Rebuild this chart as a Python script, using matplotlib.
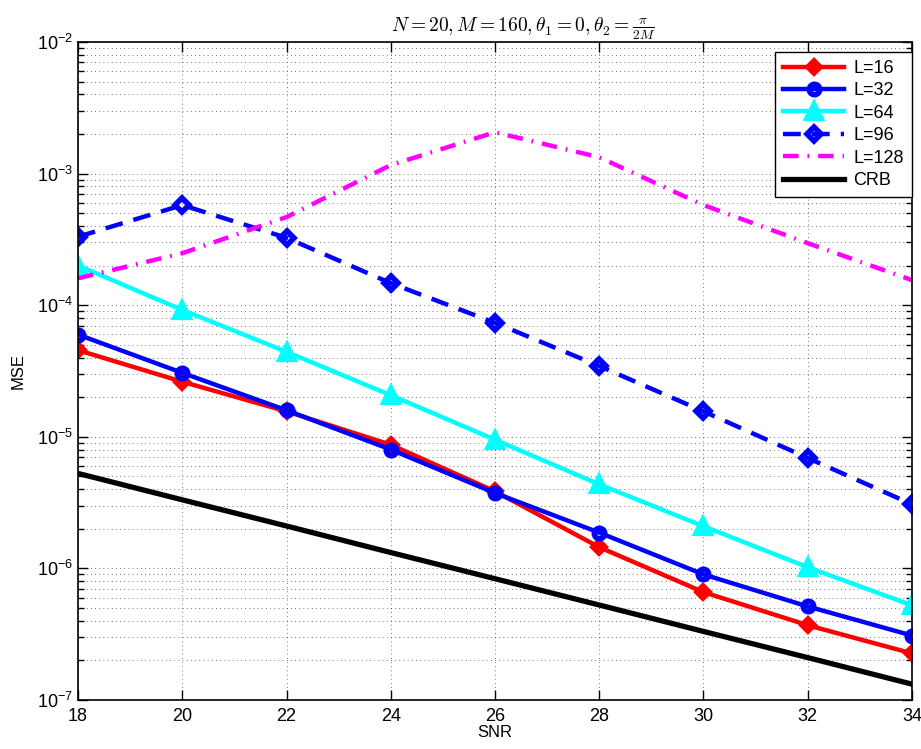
import numpy as np
import matplotlib
matplotlib.use('Agg')
import matplotlib.pyplot as plt
from matplotlib.ticker import LogLocator, NullFormatter, FuncFormatter

plt.rcParams['font.family'] = ['Liberation Sans', 'DejaVu Sans']
plt.rcParams['mathtext.fontset'] = 'cm'
plt.rcParams['mathtext.default'] = 'it'

snr = [18, 20, 22, 24, 26, 28, 30, 32, 34]

mse_L16 = [4.55e-5, 2.62e-5, 1.56e-5, 8.7e-6, 3.85e-6, 1.45e-6, 6.6e-7, 3.7e-7, 2.26e-7]
mse_L32 = [5.98e-5, 3.06e-5, 1.59e-5, 8.0e-6, 3.74e-6, 1.87e-6, 9.0e-7, 5.14e-7, 3.09e-7]
mse_L64 = [2.0e-4, 9.2e-5, 4.42e-5, 2.07e-5, 9.5e-6, 4.35e-6, 2.09e-6, 1.02e-6, 5.24e-7]
mse_L96 = [3.31e-4, 5.76e-4, 3.25e-4, 1.47e-4, 7.34e-5, 3.45e-5, 1.56e-5, 6.9e-6, 3.07e-6]
mse_L128 = [1.6e-4, 2.48e-4, 4.67e-4, 1.16e-3, 2.06e-3, 1.33e-3, 5.76e-4, 2.96e-4, 1.55e-4]
crb = [5.27e-6, 3.32e-6, 2.10e-6, 1.32e-6, 8.35e-7, 5.27e-7, 3.32e-7, 2.10e-7, 1.32e-7]

fig = plt.figure(figsize=(9.21, 7.49), dpi=100)
ax = fig.add_axes([0.0847, 0.0654, 0.9055, 0.8786])

lw = 3.2
ax.semilogy(snr, mse_L16, color='red', lw=lw, marker='D', ms=6.5, mew=4,
            mfc='none', label='L=16')
ax.semilogy(snr, mse_L32, color='blue', lw=lw, marker='o', ms=7.5, mew=4,
            mfc='none', label='L=32')
ax.semilogy(snr, mse_L64, color='cyan', lw=lw, marker='^', ms=12, mew=3,
            mfc='cyan', label='L=64')
ax.semilogy(snr, mse_L96, color='blue', lw=lw, ls=(0, (4, 2.5)), marker='D',
            ms=7.5, mew=4, mfc='none', label='L=96')
ax.semilogy(snr, mse_L128, color='magenta', lw=lw, ls=(0, (3.5, 2, 0.4, 2)),
            label='L=128')
ax.semilogy(snr, crb, color='black', lw=3.8, label='CRB')

ax.set_xlim(18, 34)
ax.set_ylim(1e-7, 1e-2)
ax.set_xticks(snr)
ax.yaxis.set_major_locator(LogLocator(base=10, numticks=10))
ax.yaxis.set_major_formatter(FuncFormatter(
    lambda v, pos: r'$\mathregular{10^{%d}}$' % round(np.log10(v))))
ax.yaxis.set_minor_locator(LogLocator(base=10, subs=np.arange(2, 10), numticks=20))
ax.yaxis.set_minor_formatter(NullFormatter())

ax.grid(True, which='major', color='black', ls=(0, (1, 4)), lw=0.6, alpha=0.7)
ax.grid(True, which='minor', axis='y', color='black', ls=(0, (1, 4)), lw=0.6, alpha=0.7)

ax.tick_params(which='both', direction='in', top=True, right=True, labelsize=13,
               width=1)
ax.tick_params(axis='x', pad=6)
ax.tick_params(which='major', length=7)
ax.tick_params(which='minor', length=4)
for sp in ax.spines.values():
    sp.set_linewidth(1.2)

ax.set_xlabel('SNR', fontsize=12, labelpad=0)
ax.set_ylabel('MSE', fontsize=12, labelpad=8)
ax.set_title(r'$N=20, M=160, \theta_1=0, \theta_2=\frac{\pi}{2M}$', fontsize=14,
             pad=5, x=0.534)

leg = ax.legend(loc='upper right', bbox_to_anchor=(1.0, 0.985), fontsize=13,
                handlelength=3.4, fancybox=False, edgecolor='black', framealpha=1,
                borderaxespad=0.0, labelspacing=0.3, handletextpad=0.5,
                borderpad=0.45)
leg.get_frame().set_linewidth(1)

fig.savefig('out.png', dpi=100)
